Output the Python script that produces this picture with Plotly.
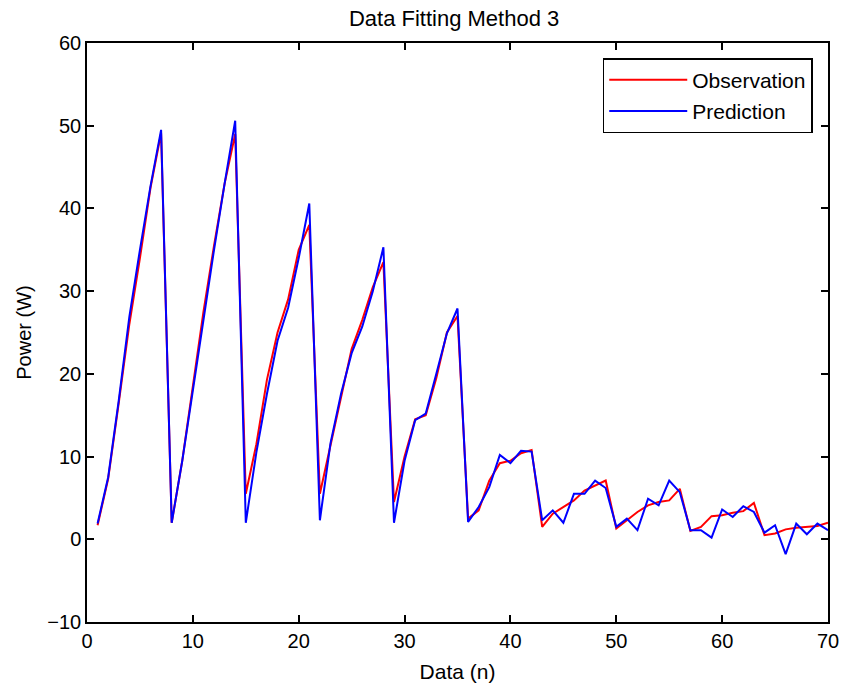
import plotly.graph_objects as go

n = list(range(1, 71))

observation = [1.7, 7.3, 16.5, 26, 34, 42.5, 49.1,
               2, 9.5, 18.5, 27.5, 35.5, 43, 49,
               5.5, 11.5, 19.3, 25, 29, 35, 38,
               5.5, 11.3, 17, 23, 26.5, 30.5, 33.5,
               4.5, 10, 14.5, 15, 19.5, 25, 27,
               2.5, 3.5, 7.1, 9.2, 9.5, 10.4, 10.8,
               1.5, 3.1, 3.9, 4.7, 5.9, 6.5, 7.1,
               1.3, 2.3, 3.3, 4.1, 4.5, 4.7, 6.1,
               1.0, 1.5, 2.8, 2.9, 3.2, 3.4, 4.4,
               0.5, 0.7, 1.2, 1.4, 1.5, 1.6, 2.0]

prediction = [1.9, 7.5, 16.8, 26.9, 35, 42.7, 49.5,
              2, 9.5, 18, 27, 35, 43, 50.6,
              2, 10.5, 17.6, 24, 28, 34, 40.6,
              2.3, 11.6, 17.6, 22.5, 25.7, 30, 35.3,
              2, 9.5, 14.4, 15.2, 20, 24.9, 27.9,
              2.1, 3.9, 6.3, 10.2, 9.2, 10.7, 10.6,
              2.3, 3.5, 2.0, 5.5, 5.5, 7.1, 6.2,
              1.5, 2.5, 1.1, 4.9, 4.1, 7.1, 5.7,
              1.1, 1.1, 0.2, 3.6, 2.7, 4.0, 3.3,
              0.8, 1.7, -1.8, 1.9, 0.6, 1.9, 1.1]

font = 'Liberation Sans, Arial, sans-serif'

fig = go.Figure()
fig.add_trace(go.Scatter(x=n, y=observation, mode='lines', name='Observation',
                         legendgroup='obs', line=dict(color='#ff0000', width=2)))
fig.add_trace(go.Scatter(x=n, y=prediction, mode='lines', name='Prediction',
                         legendgroup='pred', line=dict(color='#0000ff', width=2)))

axis = dict(showline=True, linecolor='black', linewidth=1.5, mirror='allticks',
            ticks='inside', ticklen=7, tickcolor='black', tickwidth=1.5, showgrid=False,
            zeroline=False, automargin=False,
            tickfont=dict(size=20, color='black', family=font))

fig.update_layout(
    width=844, height=687,
    margin=dict(l=87, r=16, t=43, b=65),
    paper_bgcolor='white', plot_bgcolor='white',
    font=dict(family=font, color='black', size=20),
    title=dict(text='Data Fitting Method 3', x=0.538, xanchor='center', y=0.974,
               yanchor='middle', font=dict(size=22)),
    xaxis=dict(axis, range=[0, 70], dtick=10,
               title=dict(text='Data (n)', standoff=14, font=dict(size=21))),
    yaxis=dict(axis, range=[-10, 60], dtick=10,
               title=dict(text='Power (W)', standoff=10, font=dict(size=20))),
    legend=dict(x=0.696, y=0.974, xanchor='left', yanchor='top', bgcolor='white',
                bordercolor='black', borderwidth=1.5, itemwidth=78,
                font=dict(size=21), tracegroupgap=1),
)

# drop the default 8px page margin so the figure fills the window exactly
fig.write_html("out.html", config={'displayModeBar': False},
               post_script="document.body.style.margin='0';document.body.style.overflow='hidden';")
